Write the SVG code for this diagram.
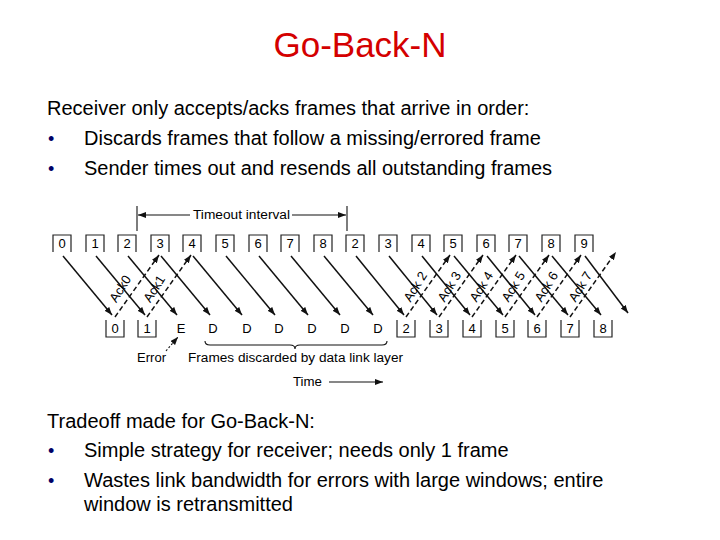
<svg xmlns="http://www.w3.org/2000/svg" width="720" height="540" viewBox="0 0 720 540">
<defs>
<marker id="ah" markerWidth="9" markerHeight="7" refX="8" refY="3" orient="auto" markerUnits="userSpaceOnUse"><path d="M0,0 L8,3 L0,6 z" fill="#111"/></marker>
<style>
.t{font-family:"Liberation Sans",Arial,sans-serif;fill:#000}
.body{font-size:20px}
.bul{font-size:18px;fill:#000066}
.lbl{font-size:13px;text-anchor:middle}
.sm{font-size:12px}
.ak{font-size:13px;text-anchor:middle}
.box{fill:none;stroke:#222;stroke-width:1.2}
.fr{stroke:#111;stroke-width:1.5;fill:none;marker-end:url(#ah)}
.ack{stroke:#111;stroke-width:1.5;fill:none;stroke-dasharray:5,3;marker-end:url(#ah)}
.ln{stroke:#111;stroke-width:1.1;fill:none}
</style>
</defs>
<rect width="720" height="540" fill="#fff"/>
<g id="title"><text class="t" x="360" y="57" text-anchor="middle" style="font-size:35px;fill:#D40000">Go-Back-N</text></g>
<g id="text-top">
<text class="t body" x="47" y="115">Receiver only accepts/acks frames that arrive in order:</text>
<text class="t bul" x="48" y="145">•</text>
<text class="t body" x="84" y="145">Discards frames that follow a missing/errored frame</text>
<text class="t bul" x="48" y="175">•</text>
<text class="t body" x="84" y="175">Sender times out and resends all outstanding frames</text>
</g>
<g id="timeout">
<line class="ln" x1="137" y1="206" x2="137" y2="231"/>
<line class="ln" x1="347" y1="206" x2="347" y2="231"/>
<line class="ln" x1="190" y1="215" x2="138" y2="215" marker-end="url(#ah)"/>
<line class="ln" x1="292" y1="215" x2="346" y2="215" marker-end="url(#ah)"/>
<text class="t sm" x="193" y="219" textLength="97" lengthAdjust="spacingAndGlyphs">Timeout interval</text>
</g>
<g id="sender-frames">
<path class="box" d="M53,252V235H71V252"/><text class="t lbl" x="62" y="248">0</text>
<path class="box" d="M86,252V235H104V252"/><text class="t lbl" x="95" y="248">1</text>
<path class="box" d="M118,252V235H136V252"/><text class="t lbl" x="127" y="248">2</text>
<path class="box" d="M151,252V235H169V252"/><text class="t lbl" x="160" y="248">3</text>
<path class="box" d="M183,252V235H201V252"/><text class="t lbl" x="192" y="248">4</text>
<path class="box" d="M216,252V235H234V252"/><text class="t lbl" x="225" y="248">5</text>
<path class="box" d="M249,252V235H267V252"/><text class="t lbl" x="258" y="248">6</text>
<path class="box" d="M281,252V235H299V252"/><text class="t lbl" x="290" y="248">7</text>
<path class="box" d="M314,252V235H332V252"/><text class="t lbl" x="323" y="248">8</text>
<path class="box" d="M346,252V235H364V252"/><text class="t lbl" x="355" y="248">2</text>
<path class="box" d="M379,252V235H397V252"/><text class="t lbl" x="388" y="248">3</text>
<path class="box" d="M412,252V235H430V252"/><text class="t lbl" x="421" y="248">4</text>
<path class="box" d="M444,252V235H462V252"/><text class="t lbl" x="453" y="248">5</text>
<path class="box" d="M477,252V235H495V252"/><text class="t lbl" x="486" y="248">6</text>
<path class="box" d="M509,252V235H527V252"/><text class="t lbl" x="518" y="248">7</text>
<path class="box" d="M542,252V235H560V252"/><text class="t lbl" x="551" y="248">8</text>
<path class="box" d="M575,252V235H593V252"/><text class="t lbl" x="584" y="248">9</text>
</g>
<g id="receiver-frames">
<path class="box" d="M106,320V337H124V320"/><text class="t lbl" x="115" y="333">0</text>
<path class="box" d="M138,320V337H156V320"/><text class="t lbl" x="147" y="333">1</text>
<text class="t lbl" x="181" y="333">E</text>
<text class="t lbl" x="213" y="333">D</text>
<text class="t lbl" x="247" y="333">D</text>
<text class="t lbl" x="279" y="333">D</text>
<text class="t lbl" x="312" y="333">D</text>
<text class="t lbl" x="345" y="333">D</text>
<text class="t lbl" x="378" y="333">D</text>
<path class="box" d="M397,320V337H415V320"/><text class="t lbl" x="406" y="333">2</text>
<path class="box" d="M430,320V337H448V320"/><text class="t lbl" x="439" y="333">3</text>
<path class="box" d="M463,320V337H481V320"/><text class="t lbl" x="472" y="333">4</text>
<path class="box" d="M496,320V337H514V320"/><text class="t lbl" x="505" y="333">5</text>
<path class="box" d="M528,320V337H546V320"/><text class="t lbl" x="537" y="333">6</text>
<path class="box" d="M561,320V337H579V320"/><text class="t lbl" x="570" y="333">7</text>
<path class="box" d="M594,320V337H612V320"/><text class="t lbl" x="603" y="333">8</text>
</g>
<g id="connectors">
<line class="fr" x1="63" y1="256" x2="112" y2="315"/>
<line class="fr" x1="96" y1="256" x2="145" y2="315"/>
<line class="fr" x1="128" y1="256" x2="177" y2="315"/>
<line class="fr" x1="161" y1="256" x2="210" y2="315"/>
<line class="fr" x1="193" y1="256" x2="242" y2="315"/>
<line class="fr" x1="226" y1="256" x2="275" y2="315"/>
<line class="fr" x1="259" y1="256" x2="308" y2="315"/>
<line class="fr" x1="291" y1="256" x2="340" y2="315"/>
<line class="fr" x1="324" y1="256" x2="373" y2="315"/>
<line class="fr" x1="356" y1="256" x2="404" y2="315"/>
<line class="fr" x1="389" y1="256" x2="437" y2="315"/>
<line class="fr" x1="422" y1="256" x2="470" y2="315"/>
<line class="fr" x1="454" y1="256" x2="503" y2="315"/>
<line class="fr" x1="487" y1="256" x2="535" y2="315"/>
<line class="fr" x1="519" y1="256" x2="568" y2="315"/>
<line class="fr" x1="552" y1="256" x2="601" y2="315"/>
<line class="fr" x1="585" y1="256" x2="628" y2="313"/>
<line class="ack" x1="115" y1="317" x2="159" y2="255"/>
<line class="ack" x1="147" y1="317" x2="191" y2="255"/>
<line class="ack" x1="406" y1="317" x2="450" y2="255"/>
<line class="ack" x1="439" y1="317" x2="483" y2="255"/>
<line class="ack" x1="472" y1="317" x2="516" y2="255"/>
<line class="ack" x1="505" y1="317" x2="549" y2="255"/>
<line class="ack" x1="537" y1="317" x2="581" y2="255"/>
<line class="ack" x1="570" y1="317" x2="616" y2="252"/>
<line class="ln" x1="166" y1="351" x2="178" y2="337" stroke-dasharray="2,2" marker-end="url(#ah)"/>
</g>
<g id="ack-labels">
<text class="t ak" transform="translate(124,291) rotate(-58)">Ack0</text>
<text class="t ak" transform="translate(158,291) rotate(-58)">Ack1</text>
<text class="t ak" transform="translate(419,289) rotate(-58)">Ack 2</text>
<text class="t ak" transform="translate(453,289) rotate(-58)">Ack 3</text>
<text class="t ak" transform="translate(485,289) rotate(-58)">Ack 4</text>
<text class="t ak" transform="translate(517,289) rotate(-58)">Ack 5</text>
<text class="t ak" transform="translate(550,289) rotate(-58)">Ack 6</text>
<text class="t ak" transform="translate(584,289) rotate(-58)">Ack 7</text>
</g>
<g id="annotations">
<text class="t sm" x="137" y="362" textLength="29" lengthAdjust="spacingAndGlyphs">Error</text>
<path class="ln" d="M205,341q0,4 5,4H290q5,0 5,4q0,-4 5,-4H382q5,0 5,-4"/>
<text class="t sm" x="188" y="362" textLength="215" lengthAdjust="spacingAndGlyphs">Frames discarded by data link layer</text>
<text class="t sm" x="293" y="386" textLength="29" lengthAdjust="spacingAndGlyphs">Time</text>
<line class="ln" x1="329" y1="382" x2="383" y2="382" marker-end="url(#ah)"/>
</g>
<g id="text-bottom">
<text class="t body" x="47" y="428">Tradeoff made for Go-Back-N:</text>
<text class="t bul" x="48" y="457">•</text>
<text class="t body" x="84" y="457">Simple strategy for receiver; needs only 1 frame</text>
<text class="t bul" x="48" y="487">•</text>
<text class="t body" x="84" y="487">Wastes link bandwidth for errors with large windows; entire</text>
<text class="t body" x="84" y="511">window is retransmitted</text>
</g>
</svg>
